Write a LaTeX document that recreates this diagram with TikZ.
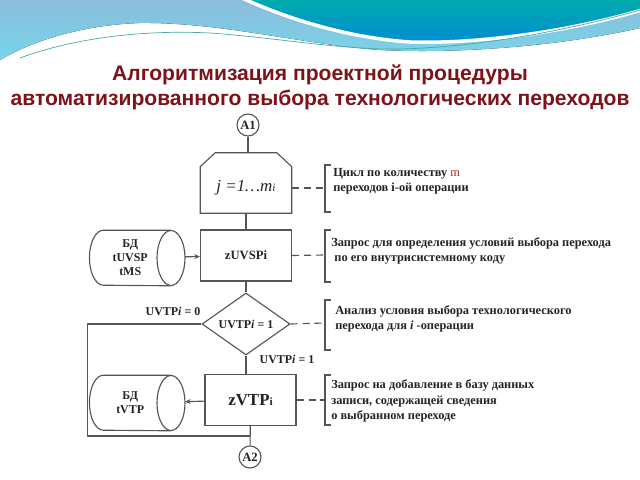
\documentclass[tikz,border=0pt]{standalone}
\usepackage{fontspec}
\setmainfont{Liberation Serif}
\newfontfamily\titlefont{Liberation Sans}
\usepackage{xcolor}
\usepackage{tikz}
\definecolor{linegray}{RGB}{85, 85, 85}
\definecolor{textdark}{RGB}{35, 35, 35}
\definecolor{titlered}{RGB}{125, 18, 25}
\definecolor{skyblue}{RGB}{140, 188, 220}
\definecolor{skycyan}{RGB}{118, 214, 234}
\definecolor{tealtop}{RGB}{0, 172, 172}
\definecolor{tealbottom}{RGB}{0, 140, 212}
\definecolor{swooshline}{RGB}{70, 170, 160}
\definecolor{noteRed}{RGB}{170, 40, 40}
\usetikzlibrary{shapes.geometric,arrows.meta,positioning,calc}

\begin{document}
\begin{tikzpicture}[
    x=0.025cm, y=-0.025cm,
    every node/.style={text=textdark},
    block/.style={
        rectangle,
        draw=linegray,
        line width=0.8pt,
        minimum width=2.275cm,
        minimum height=1.275cm,
        align=center,
        font=\fontsize{9}{11}\selectfont\bfseries
    },
    loopbox/.style={
        rectangle,
        minimum width=2.275cm,
        minimum height=1.5cm,
        inner sep=0pt
    },
    decision/.style={
        diamond,
        draw=linegray,
        line width=0.8pt,
        minimum width=2.2cm,
        minimum height=1.55cm,
        aspect=1.42,
        inner sep=0pt,
        font=\fontsize{8.5}{10}\selectfont\bfseries
    },
    database/.style={
        rectangle,
        minimum width=2.025cm,
        minimum height=1.375cm,
        inner sep=0pt,
        anchor=east,
        align=center,
        font=\fontsize{8.5}{10}\selectfont\bfseries
    },
    connector/.style={
        circle,
        draw=linegray,
        line width=0.8pt,
        minimum size=0.55cm,
        inner sep=0pt,
        font=\fontsize{9}{11}\selectfont\bfseries
    },
    note/.style={
        anchor=west,
        align=left,
        inner sep=0pt,
        font=\fontsize{8.8}{11}\selectfont\bfseries
    },
    label/.style={font=\fontsize{8.5}{10}\selectfont\bfseries},
    line/.style={draw=linegray, line width=0.8pt},
    arrow/.style={line, -{Stealth[length=4pt,width=3.5pt]}},
    dashline/.style={line, dash pattern=on 5pt off 3.5pt},
    brace/.style={line}
]
    \useasboundingbox (0,0) rectangle (640,480);

    % Header
    \fill[top color=skyblue, bottom color=skycyan]
        (0,0) -- (640,0) -- (640,28)
        .. controls (560,46) and (460,54) .. (380,50)
        .. controls (300,44) and (220,22) .. (140,23)
        .. controls (80,25) and (30,42) .. (0,60) -- cycle;
    \fill[top color=tealtop, bottom color=tealbottom, draw=white, line width=2.5pt]
        (242,-2) -- (642,-2) -- (642,10)
        .. controls (560,34) and (470,44) .. (410,42)
        .. controls (350,38) and (290,20) .. (242,-2);
    \draw[swooshline, line width=0.5pt]
        (20,58) .. controls (80,36) and (150,30) .. (210,33)
        .. controls (280,38) and (340,50) .. (400,49)
        .. controls (480,47) and (570,30) .. (640,10);

    % Title
    \node[text=titlered, font=\titlefont\bfseries\fontsize{15}{18}\selectfont, align=center]
        (title) at (320,87) {Алгоритмизация проектной процедуры\\автоматизированного выбора технологических переходов};

    % Flowchart
    \node[connector] (A1) at (248,125) {A1};
    \node[loopbox] (loop) at (246,183) {};
    \draw[line] (loop.south west) -- ($(loop.north west)+(0,14)$)
        -- ($(loop.north west)+(15,0)$) -- ($(loop.north east)+(-15,0)$)
        -- ($(loop.north east)+(0,14)$) -- (loop.south east) -- cycle;
    \node[font=\fontsize{12}{14}\selectfont\itshape] (loopText) at (246,188) {j =1…m{\fontsize{8}{9}\selectfont i}};
    \node[block] (zuvsp) at (246,255.5) {zUVSPi};
    \node[decision] (cond) at (246,324) {UVTP\textit{i} = 1};
    \node[block, font=\fontsize{12}{14}\selectfont\bfseries] (zvtp) at (250.5,400) {zVTP{\fontsize{8}{9}\selectfont i}};
    \node[connector] (A2) at (250,457) {A2};
    \coordinate (join) at (250,436);

    % Databases
    \node[database] (db1) at (171,258) {БД\\tUVSP\\tMS};
    \draw[line] ($(db1.north east)$) -- ($(db1.north west)+(0.35cm,0)$)
        arc[start angle=90, end angle=270, x radius=0.35cm, y radius=0.6875cm]
        -- (db1.south east);
    \draw[line] (db1.east) ellipse[x radius=0.35cm, y radius=0.6875cm];
    \node[database] (db2) at (171,403) {БД\\tVTP};
    \draw[line] ($(db2.north east)$) -- ($(db2.north west)+(0.35cm,0)$)
        arc[start angle=90, end angle=270, x radius=0.35cm, y radius=0.6875cm]
        -- (db2.south east);
    \draw[line] (db2.east) ellipse[x radius=0.35cm, y radius=0.6875cm];

    % Connections
    \draw[line] (A1) -- (A1 |- loop.north);
    \draw[line] (loop) -- (zuvsp);
    \draw[line] (zuvsp) -- (cond);
    \draw[line] (cond.south) -- (cond.south |- zvtp.north);
    \draw[line] (zvtp) -- (A2);
    \draw[line] (cond.west) -- ++(-114,0) |- (join);
    \draw[arrow, shorten <=0.35cm] (db1) -- (zuvsp);
    \draw[arrow, shorten >=0.35cm] (zvtp) -- (db2);

    % Labels
    \node[label] (no) at (173,311) {UVTP\textit{i} = 0};
    \node[label] (yes) at (287,359) {UVTP\textit{i} = 1};

    % Notes
    \coordinate (b1) at (325,188);
    \coordinate (b2) at (325,255);
    \coordinate (b3) at (325,323);
    \coordinate (b4) at (325,400);
    \draw[dashline] (b1 -| loop.east) -- (b1);
    \draw[dashline] (zuvsp.east) -- (b2);
    \draw[dashline] (cond.east) -- (b3);
    \draw[dashline] (zvtp.east) -- (b4);
    \draw[brace] (331,165) -- (325,165) -- (325,212) -- (331,212);
    \draw[brace] (331,230) -- (325,230) -- (325,282) -- (331,282);
    \draw[brace] (331,300) -- (325,300) -- (325,350) -- (331,350);
    \draw[brace] (331,375) -- (325,375) -- (325,425) -- (331,425);
    \node[note] (n1) at (333,181.5) {Цикл по количеству {\color{noteRed}\mdseries m}\\переходов i-ой операции};
    \node[note] (n2) at (331,251) {Запрос для определения условий выбора перехода\\\ по его внутрисистемному коду};
    \node[note] (n3) at (335,319) {Анализ условия выбора технологического\\перехода для \textit{i} -операции};
    \node[note] (n4) at (331,401) {Запрос на добавление в базу данных\\записи, содержащей сведения\\о выбранном переходе};
\end{tikzpicture}
\end{document}
